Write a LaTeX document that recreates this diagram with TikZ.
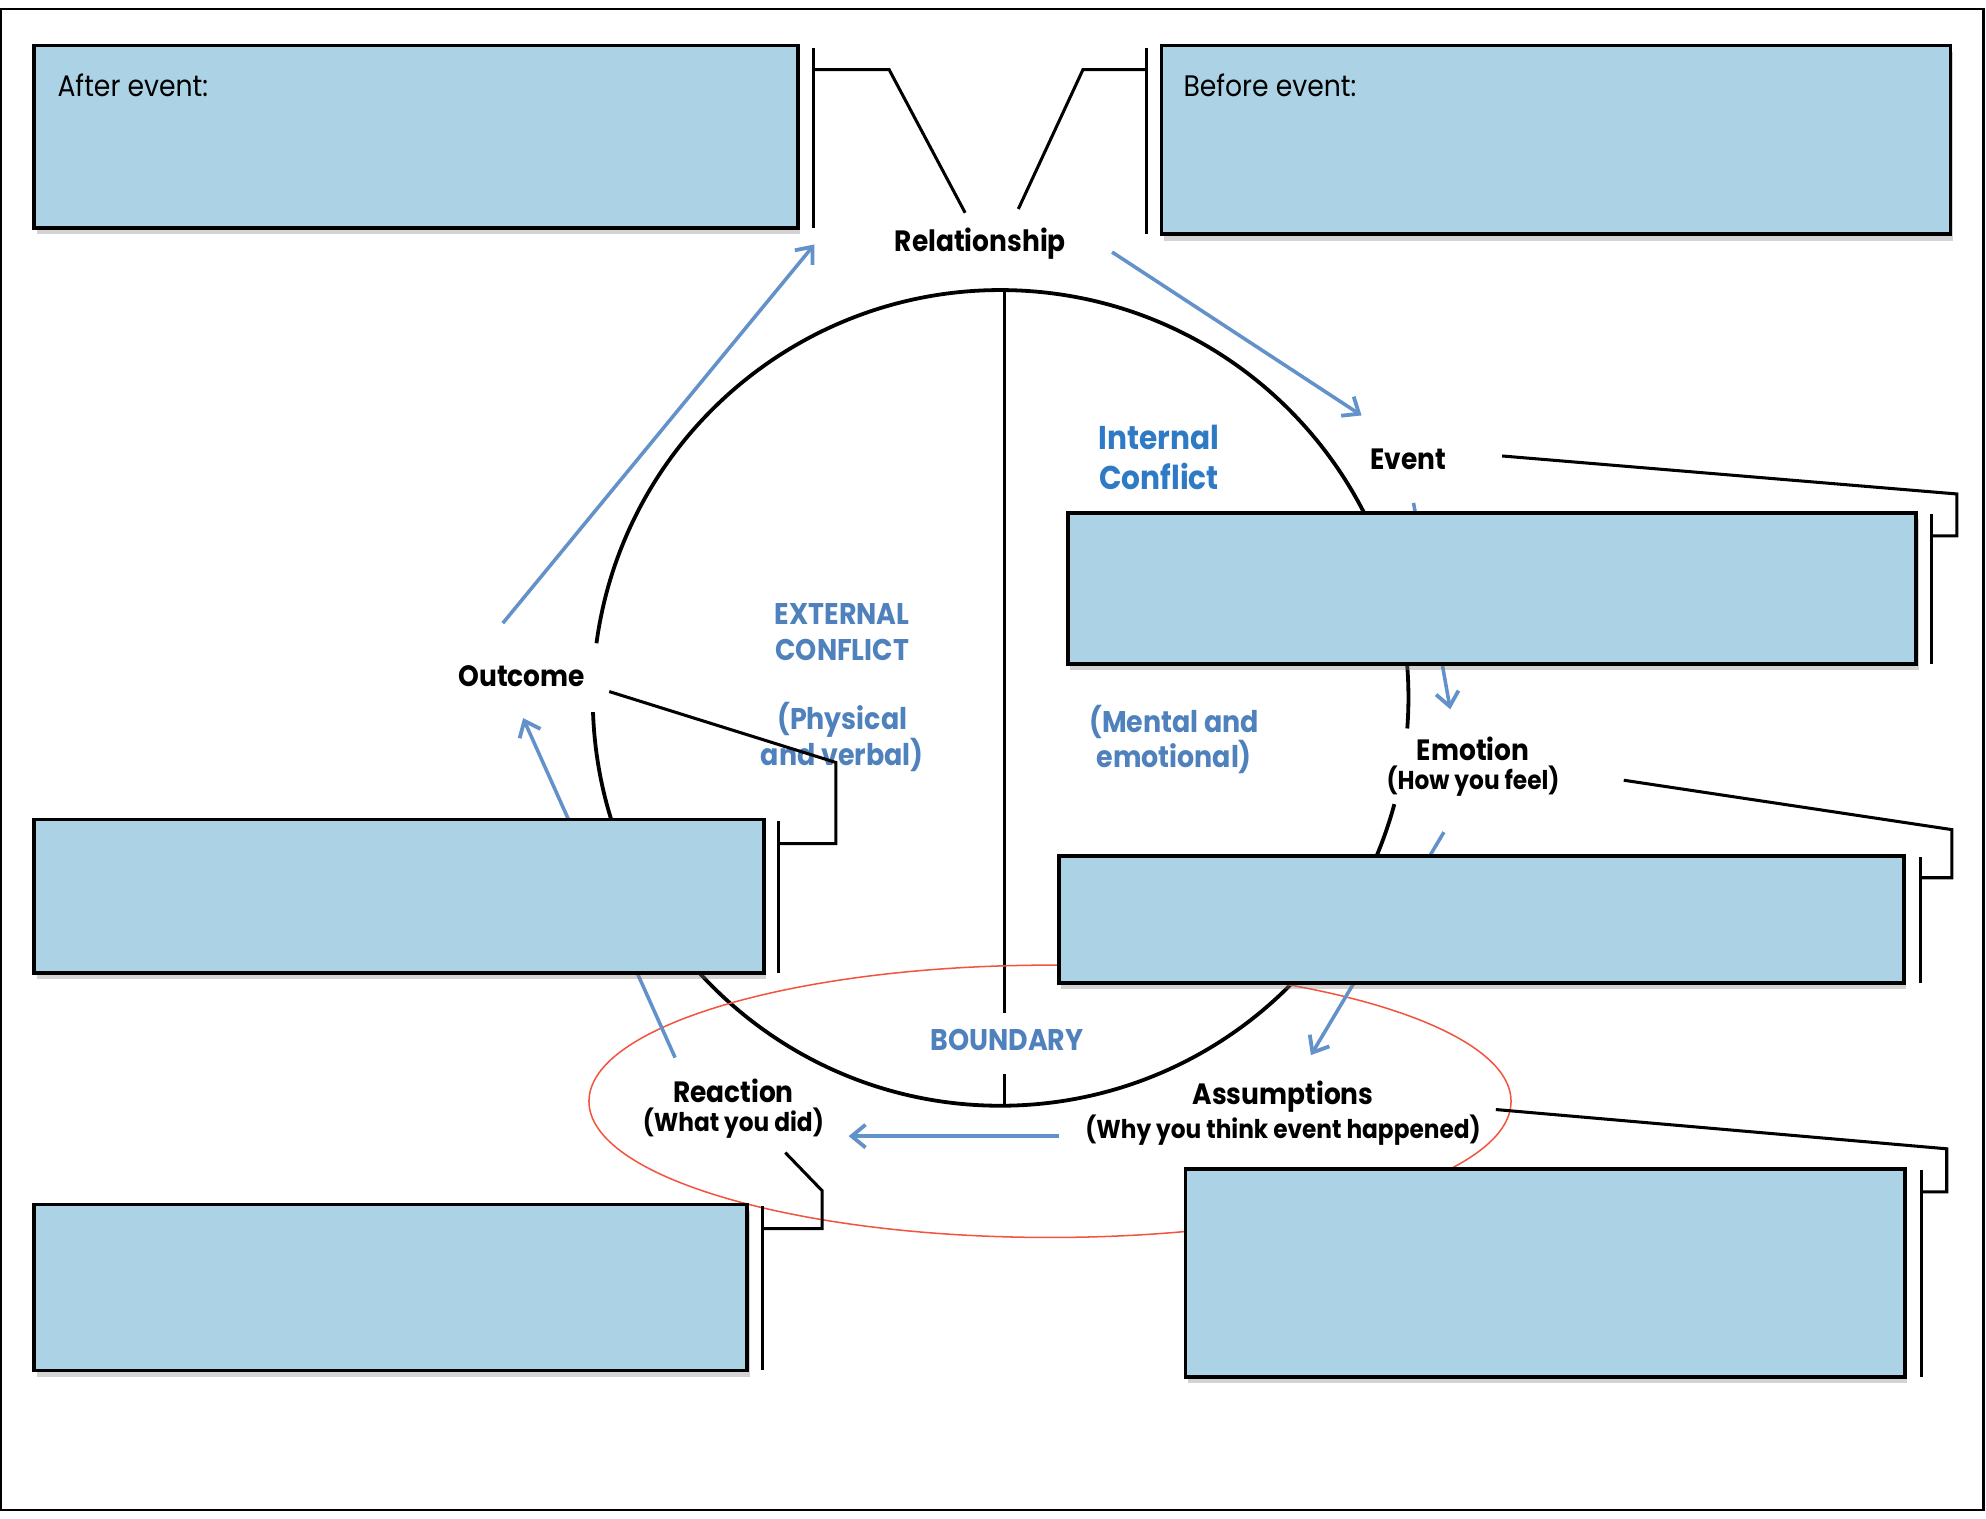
\documentclass[tikz,border=0pt]{standalone}
\usepackage{fontspec}
\setmainfont{Poppins}[FakeStretch=0.9]
\usetikzlibrary{arrows.meta,shadows}
\definecolor{boxblue}{HTML}{ACD3E5}
\definecolor{steel}{HTML}{4F81BD}
\definecolor{brightblue}{HTML}{2F7AC4}
\definecolor{arrowblue}{HTML}{6391C9}
\definecolor{ellred}{HTML}{F2543F}
\begin{document}
\begin{tikzpicture}[x=0.5pt,y=-0.5pt,
  infobox/.style={draw=black, line width=1.5pt, fill=boxblue, inner sep=0pt,
    drop shadow={shadow xshift=1pt, shadow yshift=-2.5pt, opacity=0.35}},
  bar/.style={line width=1.2pt},
  conn/.style={line width=1.2pt, line join=miter},
  circ/.style={line width=1.5pt},
  flow/.style={draw=arrowblue, line width=1.4pt, -{Straight Barb[length=5.5pt,width=9pt,line width=1.5pt]}},
  lbl/.style={font=\bfseries\fontsize{11.6}{13}\selectfont, inner sep=1pt},
  sublbl/.style={font=\bfseries\fontsize{10.2}{12}\selectfont, inner sep=1pt},
  conf/.style={text=steel, font=\bfseries\fontsize{11.8}{14}\selectfont, align=center, inner sep=1pt},
  boxtxt/.style={anchor=west, font=\fontsize{11.7}{13}\selectfont, inner sep=0pt},
]
\useasboundingbox (0,0) rectangle (1568,1199);
% frame
\draw[line width=0.8pt] (1,7) rectangle (1566,1192);

% circle with gaps for labels
\coordinate (cc) at (790,551);
\draw[circ] ([shift={(182:161pt)}]cc) arc[start angle=182, end angle=344.9, radius=161pt];
\draw[circ] ([shift={(-4.3:161pt)}]cc) arc[start angle=-4.3, end angle=172.3, radius=161pt];
% divider
\draw[line width=1.3pt] (793,230) -- (793,800);
\draw[line width=1.3pt] (793,848) -- (793,873);

% red ellipse
\draw[ellred, line width=0.6pt] (829,869.5) ellipse [x radius=182pt, y radius=53.75pt];

% labels
\node[lbl] (rel) at (774,192) {Relationship};
\node[lbl] (event) at (1112,363) {Event};
\node[lbl] (emotion) at (1163,591) {Emotion};
\node[sublbl] (emotionsub) at (1163,617) {(How you feel)};
\node[lbl] (outcome) at (412,534) {Outcome};
\node[lbl] (reaction) at (579,861) {Reaction};
\node[sublbl] (reactionsub) at (579,887) {(What you did)};
\node[lbl] (assump) at (1013,866) {Assumptions};
\node[sublbl] (assumpsub) at (1013,892) {(Why you think event happened)};

\node[text=brightblue, font=\bfseries\fontsize{13}{16}\selectfont, align=center] (internal) at (915,361) {Internal\\Conflict};
\node[conf] (external) at (665,499) {EXTERNAL\\CONFLICT};
\node[conf] (physical) at (665,582) {(Physical\\and verbal)};
\node[conf] (mental) at (927,584) {(Mental and\\emotional)};
\node[conf] (boundary) at (795,821) {BOUNDARY};

% flow arrows
\coordinate (a1s) at (397,492);  \coordinate (a1e) at (643,193);
\coordinate (a2s) at (878,199);  \coordinate (a2e) at (1075,328);
\coordinate (a3s) at (1116,397); \coordinate (a3e) at (1145,560);
\coordinate (a4s) at (1140,657); \coordinate (a4e) at (1035,833);
\coordinate (a5s) at (836,897);  \coordinate (a5e) at (670,897);
\coordinate (a6s) at (533,835);  \coordinate (a6e) at (413,567);
\draw[flow] (a1s) -- (a1e);
\draw[flow] (a2s) -- (a2e);
\draw[flow] (a3s) -- (a3e);
\draw[flow] (a4s) -- (a4e);
\draw[flow] (a5s) -- (a5e);
\draw[flow] (a6s) -- (a6e);

% boxes
\node[infobox, minimum width=301.5pt, minimum height=72pt] (afterbox) at (328.5,108) {};
\node[infobox, minimum width=311.5pt, minimum height=74.5pt] (beforebox) at (1228.5,110.5) {};
\node[infobox, minimum width=335pt, minimum height=59.5pt] (eventbox) at (1178,464.5) {};
\node[infobox, minimum width=333.5pt, minimum height=50pt] (emotionbox) at (1169.5,726) {};
\node[infobox, minimum width=288pt, minimum height=60.5pt] (outcomebox) at (315,707.5) {};
\node[infobox, minimum width=281.5pt, minimum height=65.5pt] (reactionbox) at (308.5,1016.5) {};
\node[infobox, minimum width=284pt, minimum height=82pt] (assumpbox) at (1220,1005) {};
\node[boxtxt] (aftertxt) at (45,67) {After event:};
\node[boxtxt] (beforetxt) at (934,67) {Before event:};

% brackets
\draw[bar] (642,38) -- (642,180);
\draw[bar] (905,38) -- (905,185);
\draw[bar] (1525,406) -- (1525,524);
\draw[bar] (1516,677) -- (1516,776);
\draw[bar] (615,648) -- (615,768);
\draw[bar] (602,952) -- (602,1082);
\draw[bar] (1517,924) -- (1517,1087);

% callout connectors
\coordinate (c1) at (762,168);
\coordinate (c2) at (804,165);
\coordinate (c3) at (1186,360);
\coordinate (c4) at (1282,616);
\coordinate (c5) at (481,546);
\coordinate (c6) at (620,910);
\coordinate (c7) at (1181,876);
\draw[conn] (642,55) -- (702,55) -- (c1);
\draw[conn] (905,55) -- (855,55) -- (c2);
\draw[conn] (1525,423) -- (1545,423) -- (1545,390) -- (c3);
\draw[conn] (1516,693) -- (1541,693) -- (1541,655) -- (c4);
\draw[conn] (615,666) -- (660,666) -- (660,602) -- (c5);
\draw[conn] (602,970) -- (649,970) -- (649,940) -- (c6);
\draw[conn] (1517,941) -- (1537,941) -- (1537,907) -- (c7);
\end{tikzpicture}
\end{document}
